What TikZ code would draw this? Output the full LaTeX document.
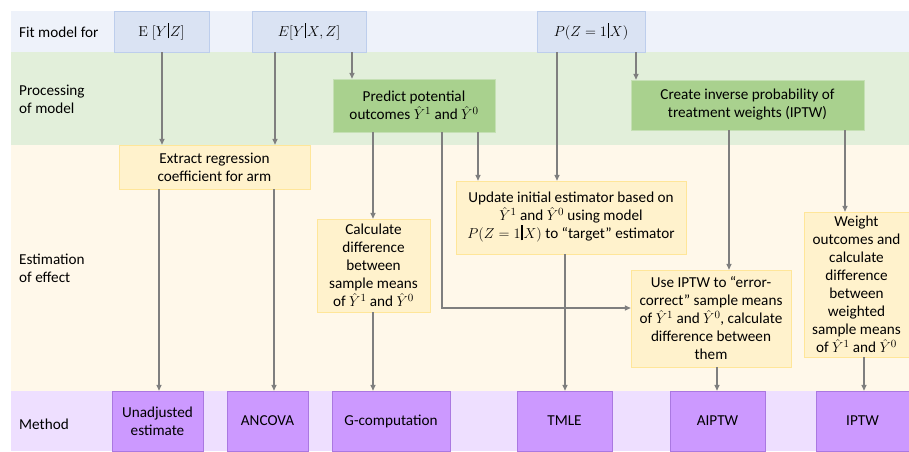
\documentclass[tikz,border=0pt]{standalone}
\usepackage[no-math]{fontspec}
\setmainfont{Carlito}
\usepackage{tikz}
\usetikzlibrary{positioning,arrows.meta,calc}
\definecolor{mBandFit}{RGB}{238,242,250}
\definecolor{mBandProc}{RGB}{226,239,218}
\definecolor{mBandEst}{RGB}{255,248,234}
\definecolor{mBandMeth}{RGB}{238,223,255}
\definecolor{mBlue}{RGB}{218,227,243}
\definecolor{mBlueLine}{RGB}{189,206,236}
\definecolor{mGreen}{RGB}{169,209,142}
\definecolor{mGreenLine}{RGB}{197,224,180}
\definecolor{mYellow}{RGB}{255,242,204}
\definecolor{mYellowLine}{RGB}{255,230,153}
\definecolor{mPurple}{RGB}{204,153,255}
\definecolor{mPurpleLine}{RGB}{170,120,225}
\definecolor{mArrow}{RGB}{127,127,127}
\newcommand{\gbar}{\mkern1mu\rule[-0.2ex]{1.3pt}{2.1ex}\mkern1mu}

\begin{document}
\begin{tikzpicture}[x=1pt, y=-1pt, >={Triangle[length=6pt,width=5pt]},
  every node/.style={font=\fontsize{15.2}{18}\selectfont, align=center, inner sep=0pt},
  rowlabel/.style={anchor=west, align=left},
  fitbox/.style={draw=mBlueLine, fill=mBlue, minimum height=41pt},
  procbox/.style={draw=mGreenLine, fill=mGreen},
  estbox/.style={draw=mYellowLine, fill=mYellow},
  methbox/.style={draw=mPurpleLine, fill=mPurple, minimum height=60pt},
  flow/.style={draw=mArrow, line width=1.4pt, ->}]
  \useasboundingbox (0,0) rectangle (909,451);
  % bands
  \fill[mBandFit] (11,11) rectangle (909,52);
  \fill[mBandProc] (11,52) rectangle (909,145);
  \fill[mBandEst] (11,145) rectangle (909,391);
  \fill[mBandMeth] (11,391) rectangle (909,451);
  \node[rowlabel] (lfit) at (19,32) {Fit model for};
  \node[rowlabel] (lproc) at (19,99) {Processing\\of model};
  \node[rowlabel] (lest) at (19,268) {Estimation\\of effect};
  \node[rowlabel] (lmeth) at (19,424) {Method};
  % fit model for
  \node[fitbox, minimum width=95pt] (eyz) at (161.5,31.5) {$\mathrm{E}\;[Y\gbar Z]$};
  \node[fitbox, minimum width=114pt] (eyxz) at (309,31.5) {$E[Y\gbar X,Z]$};
  \node[fitbox, minimum width=108pt] (pzx) at (591,31.5) {$P(Z=1\gbar X)$};
  % processing of model
  \node[procbox, minimum width=162pt, minimum height=53pt] (predict) at (414,105.5)
    {Predict potential\\outcomes $\hat{Y}^1$ and $\hat{Y}^0$};
  \node[procbox, minimum width=233pt, minimum height=50pt] (create) at (747.5,105)
    {Create inverse probability of\\treatment weights (IPTW)};
  % estimation of effect
  \node[estbox, minimum width=191pt, minimum height=44pt] (extract) at (214.5,167)
    {Extract regression\\coefficient for arm};
  \node[estbox, minimum width=113pt, minimum height=93pt] (calcdiff) at (373.5,265.5)
    {Calculate\\difference\\between\\sample means\\of $\hat{Y}^1$ and $\hat{Y}^0$};
  \node[estbox, minimum width=230pt, minimum height=73pt] (update) at (571,217.5)
    {Update initial estimator based on\\$\hat{Y}^1$ and $\hat{Y}^0$ using model\\$P(Z=1\gbar X)$ to “target” estimator};
  \node[estbox, minimum width=160pt, minimum height=97pt] (useiptw) at (711,318.5)
    {Use IPTW to “error-\\correct” sample means\\of $\hat{Y}^1$ and $\hat{Y}^0$, calculate\\difference between\\them};
  \node[estbox, minimum width=105pt, minimum height=145pt] (weight) at (856.5,284.5)
    {Weight\\outcomes and\\calculate\\difference\\between\\weighted\\sample means\\of $\hat{Y}^1$ and $\hat{Y}^0$};
  % method
  \node[methbox, minimum width=91pt] (unadj) at (157.5,421) {Unadjusted\\estimate};
  \node[methbox, minimum width=81pt] (ancova) at (267.5,421) {ANCOVA};
  \node[methbox, minimum width=118pt] (gcomp) at (391,421) {G-computation};
  \node[methbox, minimum width=95pt] (tmle) at (564.5,421) {TMLE};
  \node[methbox, minimum width=95pt] (aiptw) at (717.5,421) {AIPTW};
  \node[methbox, minimum width=93pt] (iptw) at (862.5,421) {IPTW};
  % connectors
  \draw[flow] (eyz.south -| 162,0) -- (extract.north -| 162,0);
  \draw[flow] (eyxz.south -| 275,0) -- (extract.north -| 275,0);
  \draw[flow] (eyxz.south -| 352,0) -- (predict.north -| 352,0);
  \draw[flow] (extract.south -| 159,0) -- (unadj.north -| 159,0);
  \draw[flow] (extract.south -| 274,0) -- (ancova.north -| 274,0);
  \draw[flow] (predict.south -| 373,0) -- (calcdiff.north -| 373,0);
  \draw[flow] (predict.south -| 478,0) -- (update.north -| 478,0);
  \draw[flow] (pzx.south -| 557,0) -- (update.north -| 557,0);
  \draw[flow] (pzx.south -| 636,0) -- (create.north -| 636,0);
  \draw[flow] (create.south -| 729,0) -- (useiptw.north -| 729,0);
  \draw[flow] (create.south -| 845,0) -- (weight.north -| 845,0);
  \draw[flow] (update.south -| 565,0) -- (tmle.north -| 565,0);
  \draw[flow] (predict.south -| 442,0) |- (useiptw.west |- 0,308);
  \draw[flow] (calcdiff.south -| 373,0) -- (gcomp.north -| 373,0);
  \draw[flow] (useiptw.south -| 717,0) -- (aiptw.north -| 717,0);
  \draw[flow] (weight.south -| 864,0) -- (iptw.north -| 864,0);
\end{tikzpicture}
\end{document}
